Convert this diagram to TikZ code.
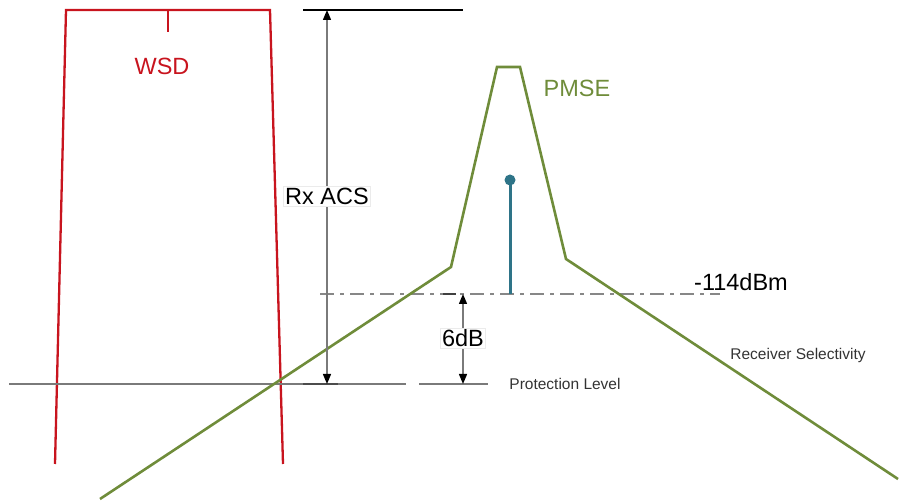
\documentclass[tikz,border=0pt]{standalone}
\usepackage{fontspec}
\setmainfont{Liberation Sans}
\usetikzlibrary{arrows.meta}
\definecolor{wsdred}{HTML}{C8141E}
\definecolor{pmsegreen}{HTML}{6F8C3A}
\definecolor{stemteal}{HTML}{2E7488}
\definecolor{refgray}{HTML}{7A7A7A}
\tikzset{
  wsdline/.style={draw=wsdred, line width=2.3pt},
  pmseline/.style={draw=pmsegreen, line width=2.6pt, line join=miter},
  refline/.style={draw=refgray, line width=1.4pt},
  dimarrow/.style={draw=refgray, line width=1.4pt, {Triangle[length=10pt,width=8pt,fill=black,color=black]}-{Triangle[length=10pt,width=8pt,fill=black,color=black]}},
  biglabel/.style={font=\fontsize{23.5}{26}\selectfont, inner sep=1pt},
  boxlabel/.style={biglabel, fill=white, draw=black!8, line width=0.5pt, inner sep=1.5pt},
  smalllabel/.style={font=\fontsize{15.5}{17}\selectfont, inner sep=1pt}
}
\begin{document}
\begin{tikzpicture}[x=1pt,y=-1pt]
\useasboundingbox (0,0) rectangle (900,502);
% WSD mask
\coordinate (wbl) at (55,464);
\coordinate (wtl) at (66,10);
\coordinate (wtr) at (270,10);
\coordinate (wbr) at (283,464);
\coordinate (wtick) at (168,10);
\coordinate (wtickb) at (168,32);
\draw[wsdline] (wbl) -- (wtl) -- (wtr) -- (wbr);
\draw[wsdline] (wtick) -- (wtickb);
\node[biglabel, text=wsdred] (wsd) at (162,66) {WSD};
% protection level lines
\coordinate (pl1a) at (9,384);
\coordinate (pl1b) at (406,384);
\coordinate (pl2a) at (419,384);
\coordinate (pl2b) at (488,384);
\draw[refline] (pl1a) -- (pl1b);
\draw[refline] (pl2a) -- (pl2b);
\coordinate (plda) at (303,384);
\coordinate (pldb) at (338,384);
\draw[draw=black!70, line width=1.6pt] (plda) -- (pldb);
% top reference line
\coordinate (topa) at (303,10);
\coordinate (topb) at (463,10);
\draw[draw=black, line width=1.3pt] (topa) -- (topb);
% -114dBm dash-dot line
\coordinate (dba) at (320,294);
\coordinate (dbb) at (720,294);
\draw[draw=refgray!90, line width=1.7pt, dash pattern=on 14pt off 6pt on 4pt off 6pt] (dba) -- (dbb);
\coordinate (dbda) at (443,294);
\coordinate (dbdb) at (456,294);
\draw[draw=black!75, line width=1.8pt] (dbda) -- (dbdb);
% PMSE curve
\coordinate (p0) at (100,499);
\coordinate (p1) at (451,267);
\coordinate (p2) at (497,67);
\coordinate (p3) at (520,67);
\coordinate (p4) at (566,259);
\coordinate (p5) at (898,479);
\draw[pmseline] (p0) -- (p1) -- (p2) -- (p3) -- (p4) -- (p5);
\node[biglabel, text=pmsegreen] (pmse) at (577,88) {PMSE};
% stem
\coordinate (stemtop) at (510,180);
\coordinate (stembot) at (510,294);
\draw[draw=stemteal, line width=3pt] (stemtop) -- (stembot);
\fill[stemteal] (stemtop) circle (5.5pt);
% Rx ACS dimension arrow
\coordinate (acst) at (327,10);
\coordinate (acsb) at (327,384);
\draw[dimarrow] (acst) -- (acsb);
\node[boxlabel] (rxacs) at (327,196) {Rx ACS};
% 6dB arrow
\coordinate (sixt) at (463,294);
\coordinate (sixb) at (463,384);
\draw[dimarrow] (sixt) -- (sixb);
\node[boxlabel] (sixdb) at (463,338) {6dB};
% labels
\node[biglabel] (dbm) at (741,282) {-114dBm};
\node[smalllabel, text=black!80] (rxsel) at (798,355) {Receiver Selectivity};
\node[smalllabel, text=black!80] (prot) at (565,384) {Protection Level};
\end{tikzpicture}
\end{document}
